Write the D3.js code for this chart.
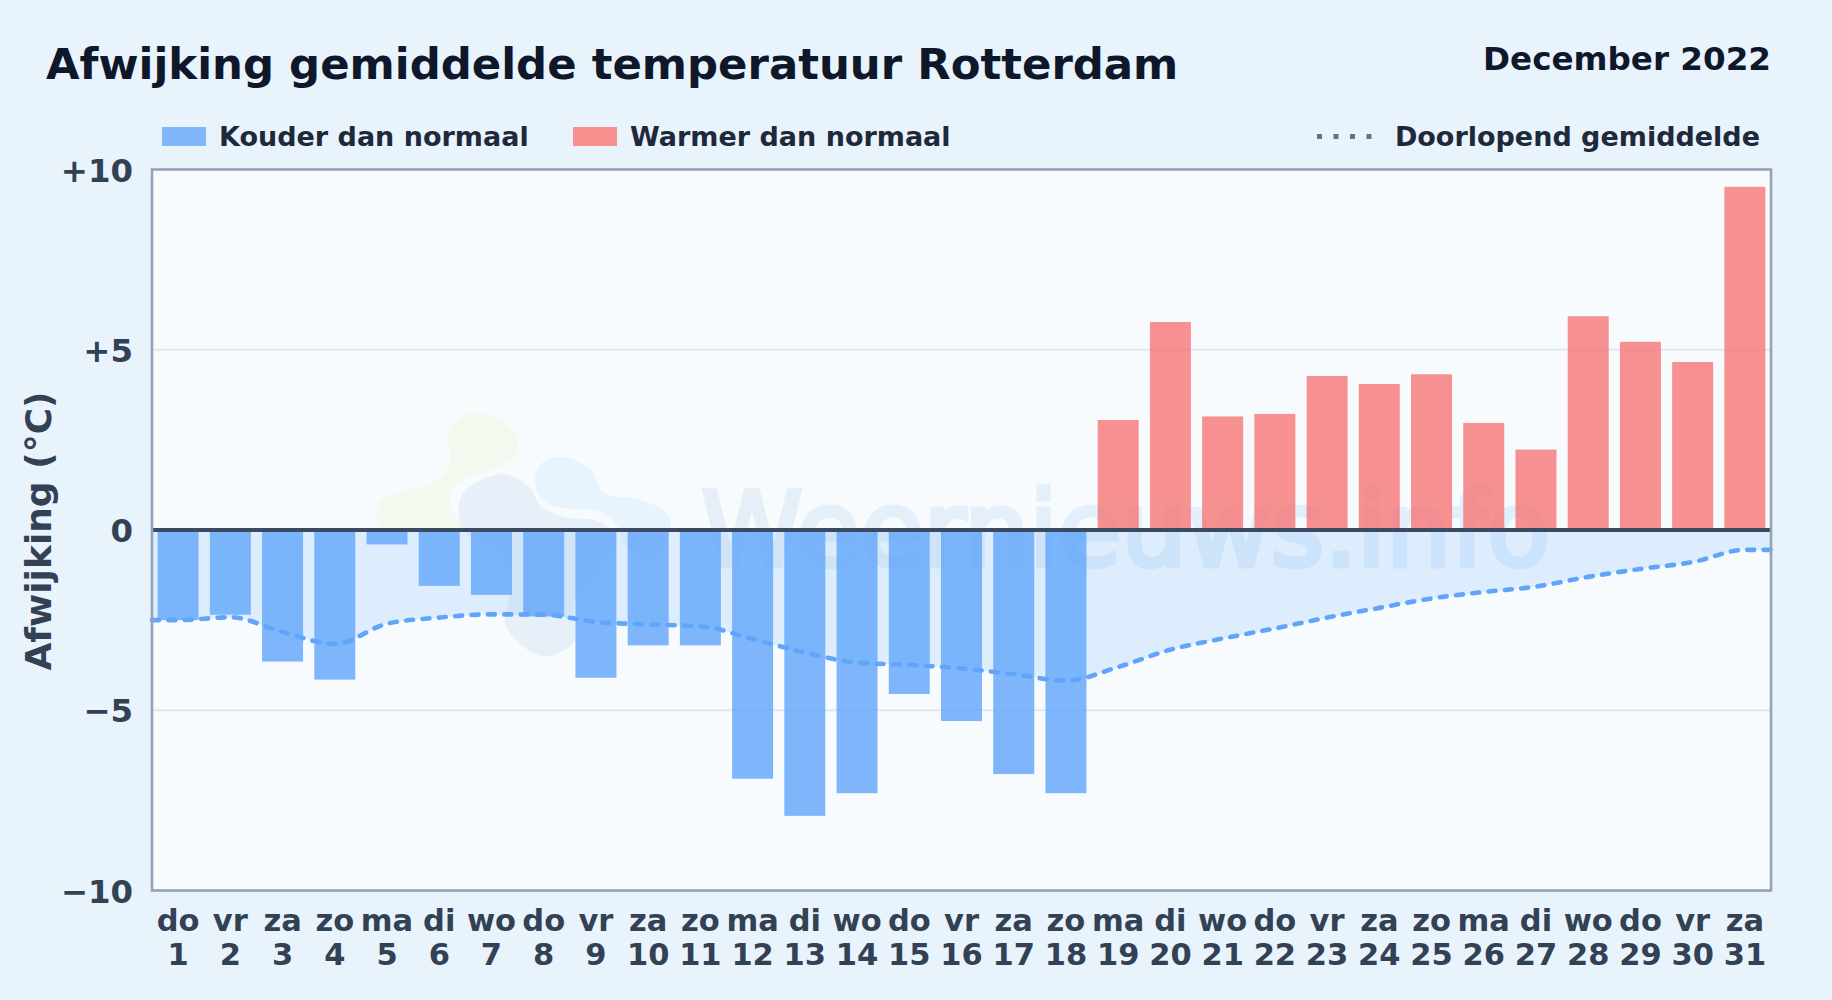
<!DOCTYPE html>
<html>
<head>
<meta charset="utf-8">
<title>Afwijking gemiddelde temperatuur Rotterdam</title>
<script src="https://cdn.jsdelivr.net/npm/d3@7"></script>
<style>
html, body { margin: 0; padding: 0; background: #e8f3fc; }
svg { display: block; }
text { font-family: "DejaVu Sans", sans-serif; font-weight: bold; }
</style>
</head>
<body>
<div id="chart"></div>
<script>
// december 2022
var dayNames = ["do","vr","za","zo","ma","di","wo","do","vr","za","zo","ma","di","wo","do","vr","za","zo","ma","di","wo","do","vr","za","zo","ma","di","wo","do","vr","za"]
var dayNumbers = [1,2,3,4,5,6,7,8,9,10,11,12,13,14,15,16,17,18,19,20,21,22,23,24,25,26,27,28,29,30,31]
var deviation = [-2.5,-2.35,-3.65,-4.15,-0.4,-1.55,-1.8,-2.4,-4.1,-3.2,-3.2,-6.9,-7.93,-7.3,-4.55,-5.3,-6.77,-7.3,3.05,5.77,3.15,3.22,4.27,4.05,4.32,2.97,2.23,5.93,5.22,4.66,9.52]
var runningMean = [-2.5,-2.42,-2.83,-3.16,-2.6,-2.43,-2.34,-2.35,-2.55,-2.62,-2.67,-3.02,-3.4,-3.68,-3.74,-3.84,-4.0,-4.18,-3.8,-3.32,-3.01,-2.73,-2.43,-2.16,-1.9,-1.72,-1.57,-1.3,-1.08,-0.89,-0.55]
var yTicks = [-10,-5,0,5,10]

var width = 1832, height = 1000
var plot = {left: 152, right: 1771, top: 169.5, bottom: 890.5}

var svg = d3.select("#chart").append("svg").attr("width",width).attr("height",height)

svg.append("rect").attr("width",width).attr("height",height).attr("fill","#e8f3fc")

var x = d3.scaleBand().domain(dayNumbers).range([plot.left,plot.right]).paddingInner(0.215).paddingOuter(0.1075)
var y = d3.scaleLinear().domain([-10,10]).range([plot.bottom,plot.top])

svg.append("rect")
	.attr("x",plot.left).attr("y",plot.top)
	.attr("width",plot.right-plot.left).attr("height",plot.bottom-plot.top)
	.attr("fill","#f7fbfe")

drawWatermark()

// gridlines
svg.selectAll(".grid")
	.data(yTicks.filter(function(d){return Math.abs(d)==5}))
	.enter().append("line")
	.attr("class","grid")
	.attr("x1",plot.left).attr("x2",plot.right)
	.attr("y1",function(d){return y(d)}).attr("y2",function(d){return y(d)})
	.attr("stroke","#e0e7ee").attr("stroke-width",2)

// the mean runs on to both edges of the plot
var meanPoints = dayNumbers.map(function(d,i){
	return [x(d)+x.bandwidth()/2, runningMean[i]]
})
meanPoints.unshift([plot.left, runningMean[0]])
meanPoints.push([plot.right, runningMean[runningMean.length-1]])

var area = d3.area()
	.x(function(d){return d[0]})
	.y0(y(0))
	.y1(function(d){return y(d[1])})
	.curve(d3.curveMonotoneX)

svg.append("path").datum(meanPoints)
	.attr("d",area)
	.attr("fill","#60a5fa").attr("fill-opacity",0.16)

svg.selectAll(".bar")
	.data(deviation)
	.enter().append("rect")
	.attr("class","bar")
	.attr("x",function(d,i){return x(dayNumbers[i])})
	.attr("width",x.bandwidth())
	.attr("y",function(d){return y(Math.max(d,0))})
	.attr("height",function(d){return Math.abs(y(d)-y(0))})
	.attr("fill",function(d){return d<0 ? "#60a5fa" : "#f67676"})
	.attr("fill-opacity",function(d){return d<0 ? 0.8 : 0.8})

var line = d3.line()
	.x(function(d){return d[0]})
	.y(function(d){return y(d[1])})
	.curve(d3.curveMonotoneX)

svg.append("path").datum(meanPoints)
	.attr("d",line)
	.attr("fill","none")
	.attr("stroke","#60a5fa").attr("stroke-width",4.6)
	.attr("stroke-linecap","round")
	.attr("stroke-dasharray","7 9.4")

// zero line and frame
svg.append("line")
	.attr("x1",plot.left).attr("x2",plot.right)
	.attr("y1",y(0)).attr("y2",y(0))
	.attr("stroke","#3b4a61").attr("stroke-width",3.8)

svg.append("rect")
	.attr("x",plot.left).attr("y",plot.top)
	.attr("width",plot.right-plot.left).attr("height",plot.bottom-plot.top)
	.attr("fill","none")
	.attr("stroke","#94a3b8").attr("stroke-width",2.6)

// axes
function formatTick(d){
	if(d>0) return "+"+d
	if(d<0) return "\u2212"+Math.abs(d)
	return "0"
}

var yAxis = svg.append("g")
	.attr("transform","translate("+plot.left+",0)")
	.call(d3.axisLeft(y).tickValues(yTicks).tickFormat(formatTick).tickSize(0).tickPadding(19))
yAxis.select(".domain").remove()
yAxis.selectAll("text")
	.attr("fill","#334155")
	.style("font-size","32.4px")
	.attr("dy","0.36em")

var xAxis = svg.append("g")
	.attr("transform","translate(0,"+plot.bottom+")")
	.call(d3.axisBottom(x).tickSize(0).tickFormat(""))
xAxis.select(".domain").remove()
xAxis.selectAll(".tick text").remove()
xAxis.selectAll(".tick").each(function(d,i){
	var t = d3.select(this).append("text")
		.attr("text-anchor","middle")
		.attr("fill","#334155")
		.style("font-size","30.5px")
	t.append("tspan").attr("x",0).attr("y",40).text(dayNames[i])
	t.append("tspan").attr("x",0).attr("y",74).text(d)
})

svg.append("text")
	.attr("transform","translate(51,531) rotate(-90)")
	.attr("text-anchor","middle")
	.attr("fill","#334155")
	.style("font-size","36px")
	.text("Afwijking (\u00b0C)")

// titles
svg.append("text")
	.attr("x",46).attr("y",79)
	.attr("fill","#0f172a")
	.style("font-size","43.4px")
	.text("Afwijking gemiddelde temperatuur Rotterdam")

svg.append("text")
	.attr("x",1771).attr("y",70)
	.attr("text-anchor","end")
	.attr("fill","#0f172a")
	.style("font-size","32.6px")
	.text("December 2022")

// legend
function legendBar(xPos,color,label,textX){
	svg.append("rect")
		.attr("x",xPos).attr("y",127)
		.attr("width",44).attr("height",19)
		.attr("fill",color)
	svg.append("text")
		.attr("x",textX).attr("y",146)
		.attr("fill","#1e293b")
		.style("font-size","27px")
		.text(label)
}
legendBar(162,"#80b7fb","Kouder dan normaal",219)
legendBar(573,"#f98f8f","Warmer dan normaal",630)

svg.append("line")
	.attr("x1",1317).attr("x2",1375)
	.attr("y1",136.5).attr("y2",136.5)
	.attr("stroke","#64748b").attr("stroke-width",5)
	.attr("stroke-dasharray","5 11.5")

svg.append("text")
	.attr("x",1760).attr("y",146)
	.attr("text-anchor","end")
	.attr("fill","#1e293b")
	.style("font-size","27px")
	.text("Doorlopend gemiddelde")

// faint logo and site name behind the bars
function drawWatermark(){
	var blob = d3.line().curve(d3.curveCatmullRomClosed)
	var g = svg.append("g")
	g.append("path")
		.attr("d",blob([[484,413],[515,433],[517,453],[502,465],[453,487],[450,507],[462,528],[381,528],[379,503],[408,490],[435,482],[450,463],[448,433],[462,417]]))
		.attr("fill","#f3f9ee")
	g.append("path")
		.attr("d",blob([[564,457],[591,470],[604,493],[636,499],[667,513],[670,530],[650,560],[625,545],[618,527],[600,512],[564,508],[542,500],[535,480],[542,463]]))
		.attr("fill","#e8f4fd")
	g.append("path")
		.attr("d",blob([[462,495],[502,474],[529,487],[542,507],[564,517],[600,522],[616,540],[600,570],[575,600],[573,643],[542,656],[506,627],[510,590],[500,555],[462,528]]))
		.attr("fill","#e7f0f8")

	var grad = svg.append("defs").append("linearGradient").attr("id","siteName")
	grad.append("stop").attr("offset","0%").attr("stop-color","#e6eff7")
	grad.append("stop").attr("offset","100%").attr("stop-color","#e0effe")
	g.append("text")
		.attr("x",701).attr("y",566)
		.attr("fill","url(#siteName)")
		.attr("stroke","url(#siteName)").attr("stroke-width",5)
		.style("font-size","103px")
		.style("font-weight","normal")
		.text("Weernieuws.info")
}
</script>
</body>
</html>
